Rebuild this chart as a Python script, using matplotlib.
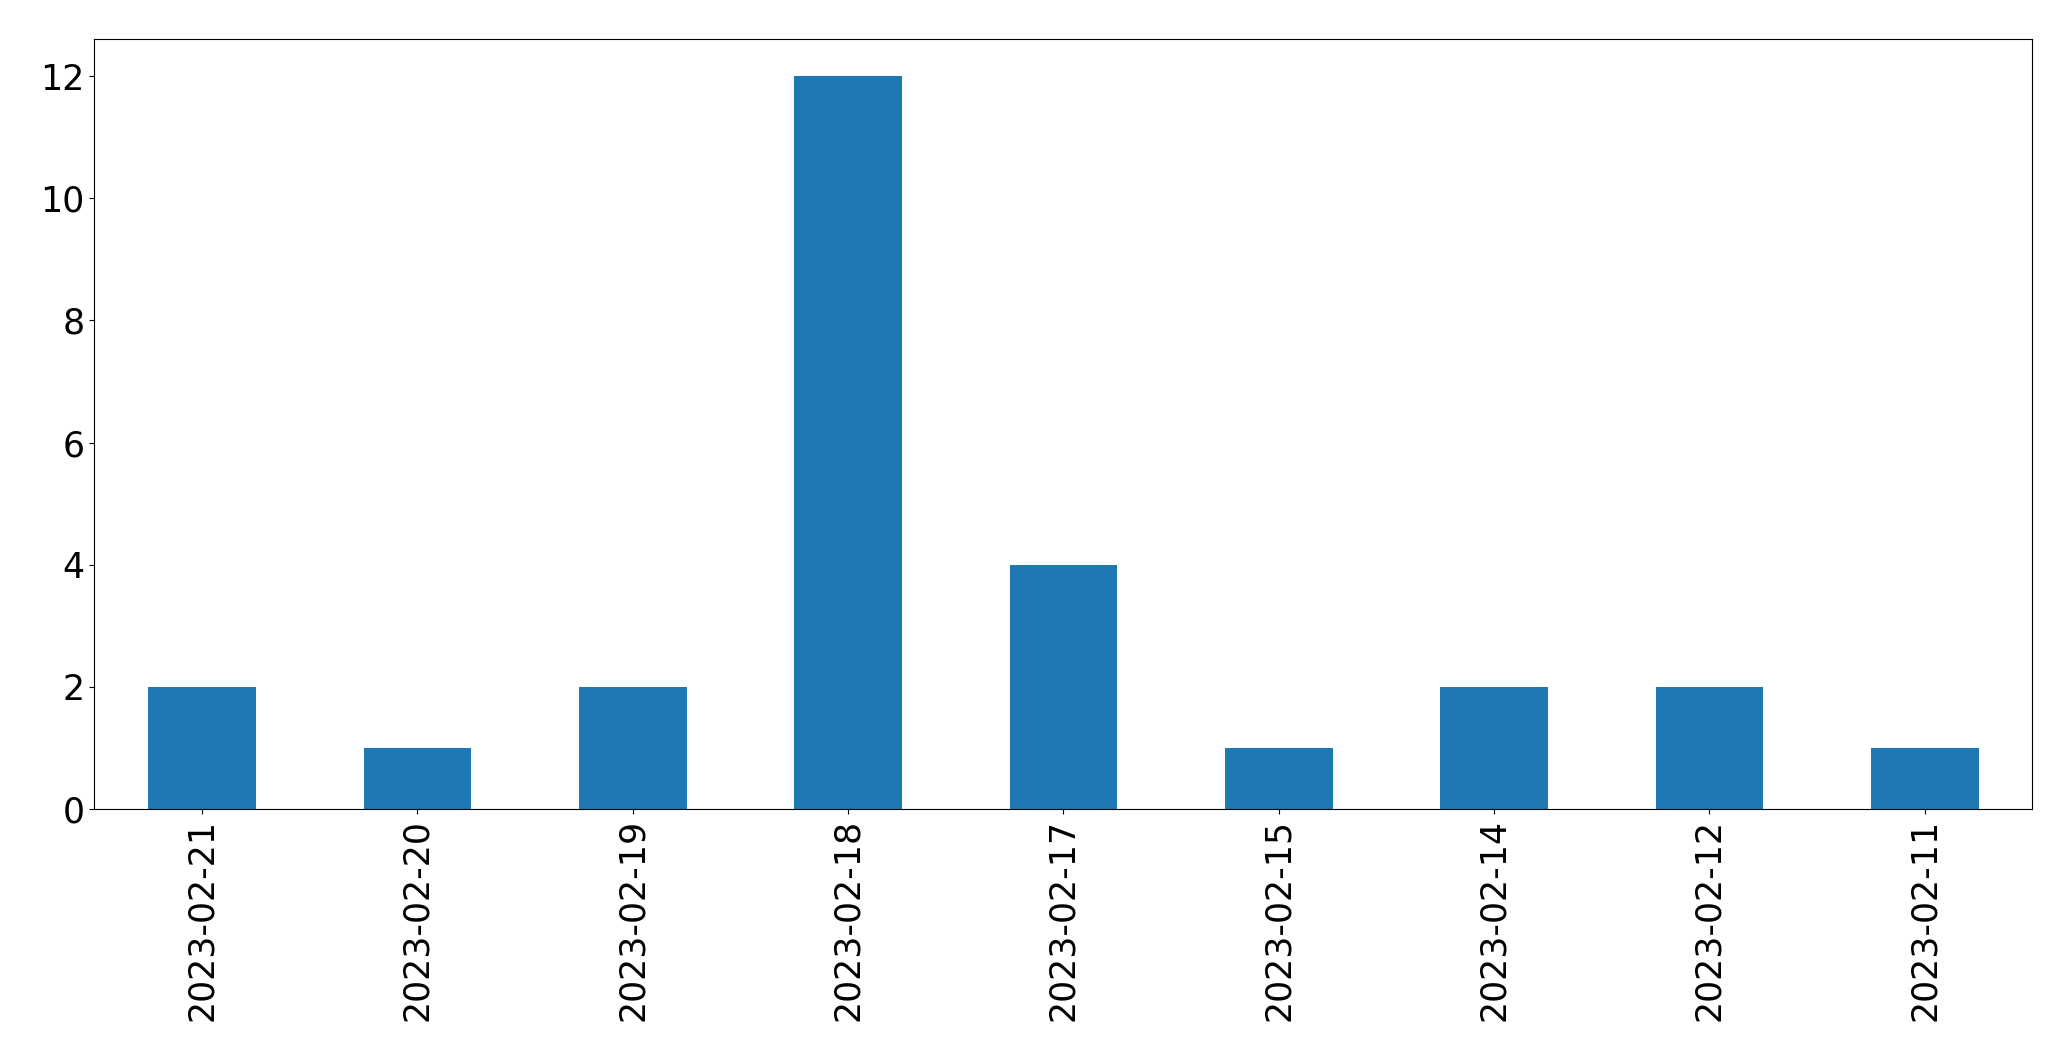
import matplotlib
matplotlib.use("Agg")
import matplotlib.pyplot as plt
import pandas as pd

# visit counts per day (most recent first)
dates = ["2023-02-21", "2023-02-20", "2023-02-19", "2023-02-18", "2023-02-17",
         "2023-02-15", "2023-02-14", "2023-02-12", "2023-02-11"]
counts = [2, 1, 2, 12, 4, 1, 2, 2, 1]

series = pd.Series(counts, index=dates)

fig = plt.figure(figsize=(20.71, 10.61), dpi=100)
ax = fig.add_axes([0.0456, 0.2375, 0.9358, 0.7253])
series.plot(kind="bar", ax=ax, fontsize=25)
ax.set_yticks([0, 2, 4, 6, 8, 10, 12])

fig.savefig("out.png", dpi=100)
